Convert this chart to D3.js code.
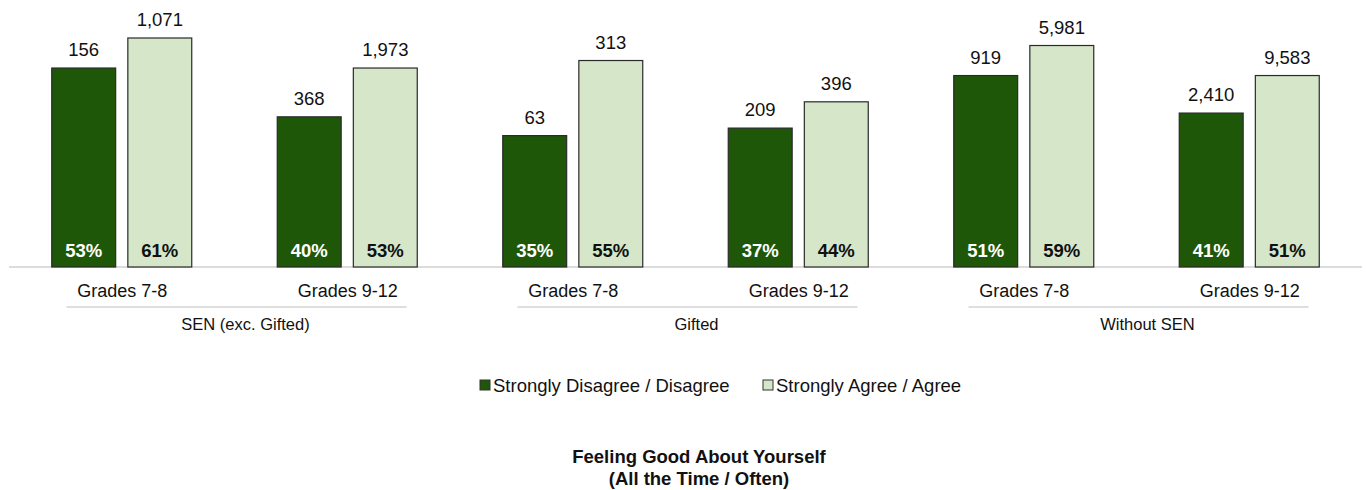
<!DOCTYPE html>
<html><head><meta charset="utf-8">
<script src="https://cdn.jsdelivr.net/npm/d3@7"></script>
<style>body{margin:0;background:#fff;}svg{display:block;font-family:Arial,"Liberation Sans",sans-serif;}</style>
</head><body><svg id="c" width="1366" height="490"></svg>
<script>
const groups = ["SEN (exc. Gifted)", "Gifted", "Without SEN"];
const grades = ["Grades 7-8", "Grades 9-12"];
const seriesNames = ["Strongly Disagree / Disagree", "Strongly Agree / Agree"];
const disagreePct = [53, 40, 35, 37, 51, 41];
const agreePct = [61, 53, 55, 44, 59, 51];
const disagreeN = [156, 368, 63, 209, 919, 2410];
const agreeN = [1071, 1973, 313, 396, 5981, 9583];
const colors = ["#1f5709", "#d5e6c9"];
const titleLines = ["Feeling Good About Yourself", "(All the Time / Often)"];

const svg = d3.select("#c");
const cats = [];
groups.forEach((g, gi) => grades.forEach((gr, ri) => cats.push({key: gi + "-" + ri, group: g, gi, grade: gr})));
const x = d3.scaleBand().domain(cats.map(d => d.key)).range([9, 1362]).paddingInner(0).paddingOuter(0);
const inner = d3.scaleBand().domain([0, 1]).range([0, 140]).paddingInner(0.16);
const y = d3.scaleLinear().domain([0, 61]).range([267, 38]);
const fmt = d3.format(",");

const data = [];
cats.forEach((c, i) => {
  data.push({c, s: 0, pct: disagreePct[i], n: disagreeN[i]});
  data.push({c, s: 1, pct: agreePct[i], n: agreeN[i]});
});
const bx = d => x(d.c.key) + (x.bandwidth() - 140) / 2 + inner(d.s);

// axis baseline
svg.append("line").attr("x1", 9).attr("x2", 1362).attr("y1", y(0)).attr("y2", y(0))
  .attr("stroke", "#d0d0d0").attr("stroke-width", 1.5);

svg.selectAll("rect.bar").data(data).join("rect").attr("class", "bar")
  .attr("x", bx).attr("width", inner.bandwidth())
  .attr("y", d => y(d.pct)).attr("height", d => y(0) - y(d.pct))
  .attr("fill", d => colors[d.s]).attr("stroke", "#2a2a2a").attr("stroke-width", 1.2);

svg.selectAll("text.n").data(data).join("text").attr("class", "n")
  .attr("x", d => bx(d) + inner.bandwidth() / 2).attr("y", d => y(d.pct) - 12)
  .attr("text-anchor", "middle").attr("font-size", 18.5).attr("fill", "#111")
  .text(d => fmt(d.n));

svg.selectAll("text.p").data(data).join("text").attr("class", "p")
  .attr("x", d => bx(d) + inner.bandwidth() / 2).attr("y", y(0) - 10)
  .attr("text-anchor", "middle").attr("font-size", 18.5).attr("font-weight", "bold")
  .attr("fill", d => d.s === 0 ? "#fff" : "#111")
  .text(d => d.pct + "%");

// category labels
svg.selectAll("text.cat").data(cats).join("text").attr("class", "cat")
  .attr("x", d => x(d.key) + x.bandwidth() / 2 + 0.5).attr("y", 297)
  .attr("text-anchor", "middle").attr("font-size", 18).attr("fill", "#111")
  .text(d => d.grade);

// group lines and labels
groups.forEach((g, gi) => {
  const cx = x(gi + "-0") + x.bandwidth();
  svg.append("line").attr("x1", cx - 168).attr("x2", cx + 172).attr("y1", 307).attr("y2", 307)
    .attr("stroke", "#bdbdbd").attr("stroke-width", 1);
  svg.append("text").attr("x", cx + 11).attr("y", 330).attr("text-anchor", "middle")
    .attr("font-size", 16.5).attr("fill", "#111").text(g);
});

// legend
const legX = [480, 763];
seriesNames.forEach((s, i) => {
  svg.append("rect").attr("x", legX[i]).attr("y", 380).attr("width", 10).attr("height", 10)
    .attr("fill", colors[i]).attr("stroke", "#333").attr("stroke-width", 1);
  svg.append("text").attr("x", legX[i] + 13).attr("y", 392).attr("font-size", 18.5).attr("fill", "#111").text(s);
});

// title
titleLines.forEach((t, i) => {
  svg.append("text").attr("x", 699).attr("y", 463 + i * 22).attr("text-anchor", "middle")
    .attr("font-size", 18.5).attr("font-weight", "bold").attr("fill", "#111").text(t);
});
</script></body></html>
